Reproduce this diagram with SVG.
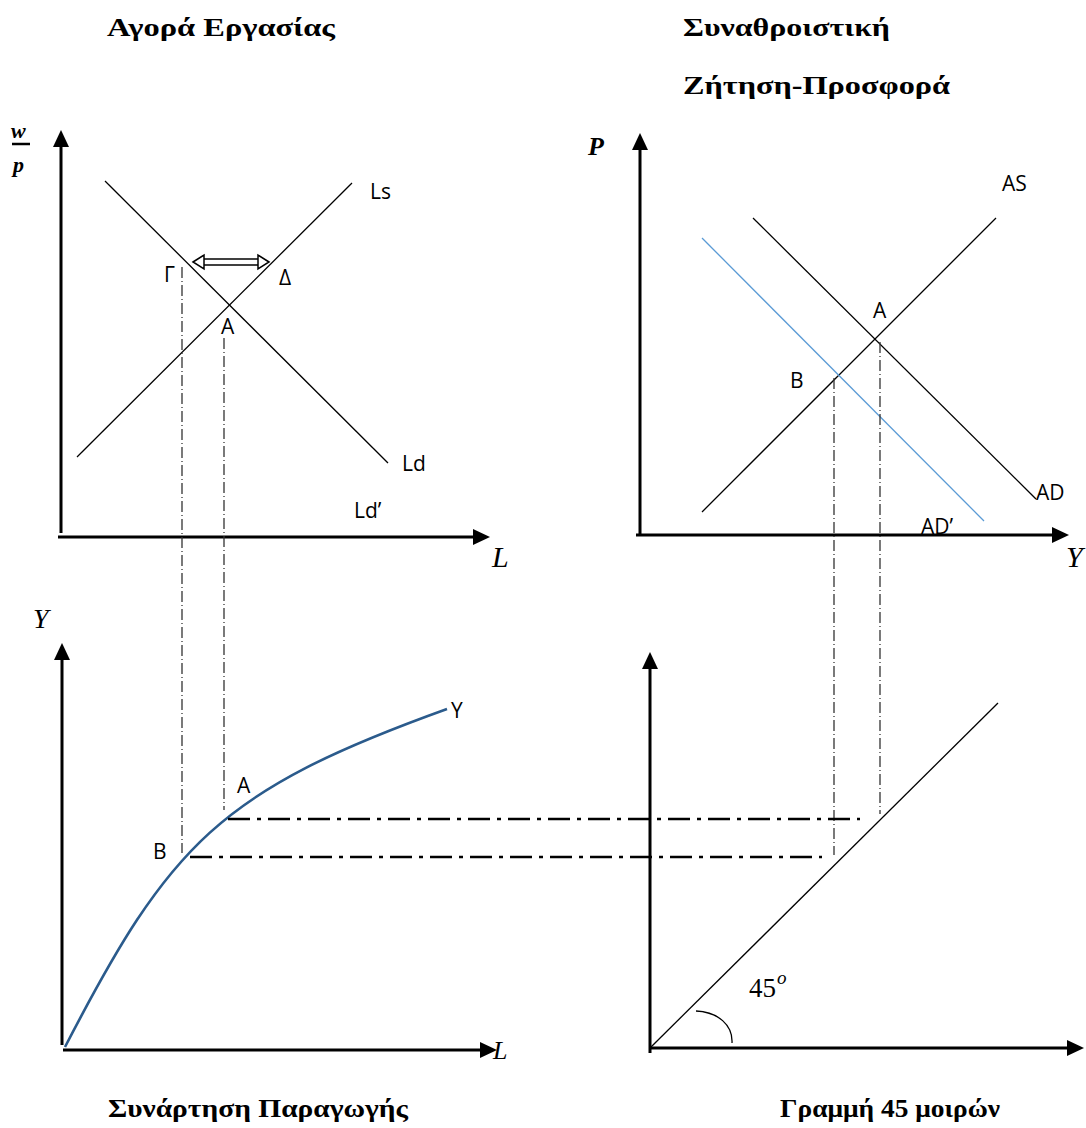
<svg xmlns="http://www.w3.org/2000/svg" width="1086" height="1128" viewBox="0 0 1086 1128">
<style>
.axis{stroke:#000;stroke-width:3;fill:none}
.head{fill:#000}
.curve{stroke:#000;stroke-width:1.3;fill:none}
.blue{stroke:#5b9bd5;stroke-width:1.3;fill:none}
.vdash{stroke:#333;stroke-width:1.3;fill:none;stroke-dasharray:11 3 1 3}
.hdash{stroke:#000;stroke-width:2.5;fill:none;stroke-dasharray:22 7 4 7}
.lbl{font-family:"Open Sans","Noto Sans",sans-serif;font-size:21px;fill:#000}
.title{font-family:"Liberation Serif",serif;font-weight:bold;font-size:26px;fill:#000}
.math{font-family:"Liberation Serif",serif;fill:#000}
.it{font-style:italic}
</style>
<rect width="1086" height="1128" fill="#fff"/>

<g id="titles">
<text class="title" x="107" y="36" textLength="228" lengthAdjust="spacingAndGlyphs">Αγορά Εργασίας</text>
<text class="title" x="683" y="36" textLength="207" lengthAdjust="spacingAndGlyphs">Συναθροιστική</text>
<text class="title" x="683" y="94" textLength="267" lengthAdjust="spacingAndGlyphs">Ζήτηση-Προσφορά</text>
<text class="title" x="108" y="1117" textLength="300" lengthAdjust="spacingAndGlyphs">Συνάρτηση Παραγωγής</text>
<text class="title" x="780" y="1117" textLength="220" lengthAdjust="spacingAndGlyphs">Γραμμή 45 μοιρών</text>
</g>

<g id="labour-market">
<line class="axis" x1="61" y1="533" x2="61" y2="145"/>
<polygon class="head" points="61,130 53,147 69,147"/>
<line class="axis" x1="58" y1="537" x2="475" y2="537"/>
<polygon class="head" points="490,537 473,529 473,545"/>
<text class="math it" x="11" y="138" font-size="22" font-weight="bold">w</text>
<line x1="12" y1="144" x2="30" y2="144" stroke="#000" stroke-width="2.5"/>
<text class="math it" x="13" y="172" font-size="22" font-weight="bold">p</text>
<text class="math it" x="492" y="567" font-size="30">L</text>
<line class="curve" x1="105" y1="181" x2="388" y2="463"/>
<line class="curve" x1="77" y1="457" x2="352" y2="183"/>
<text class="lbl" x="370" y="199">Ls</text>
<text class="lbl" x="402" y="471">Ld</text>
<text class="lbl" x="354" y="518">Ld’</text>
<text class="lbl" x="164" y="282">Γ</text>
<text class="lbl" x="279" y="285">Δ</text>
<text class="lbl" x="221" y="334">A</text>
<g id="gap-arrow" fill="none" stroke="#000" stroke-width="1.5">
<line x1="201" y1="259" x2="261" y2="259"/>
<line x1="201" y1="265" x2="261" y2="265"/>
<polygon points="193,262 204,255 204,269" fill="#fff"/>
<polygon points="269,262 258,255 258,269" fill="#fff"/>
</g>
</g>

<g id="ad-as">
<line class="axis" x1="640" y1="535" x2="640" y2="148"/>
<polygon class="head" points="640,133 632,150 648,150"/>
<line class="axis" x1="636" y1="535" x2="1054" y2="535"/>
<polygon class="head" points="1069,535 1052,527 1052,543"/>
<text class="math it" x="588" y="155" font-size="26" font-weight="bold">P</text>
<text class="math it" x="1066" y="567" font-size="30">Y</text>
<line class="curve" x1="702" y1="512" x2="996" y2="218"/>
<line class="curve" x1="753" y1="218" x2="1036" y2="499"/>
<line class="blue" x1="702" y1="238" x2="984" y2="521"/>
<text class="lbl" x="1002" y="191">AS</text>
<text class="lbl" x="873" y="318">A</text>
<text class="lbl" x="790" y="388">B</text>
<text class="lbl" x="1036" y="500">AD</text>
<text class="lbl" x="921" y="534">AD’</text>
</g>

<g id="production-function">
<line class="axis" x1="62" y1="1045" x2="62" y2="658"/>
<polygon class="head" points="62,643 54,660 70,660"/>
<line class="axis" x1="63" y1="1050" x2="482" y2="1050"/>
<polygon class="head" points="497,1050 480,1042 480,1058"/>
<text class="math it" x="33" y="628" font-size="28">Y</text>
<text class="math it" x="493" y="1059" font-size="26">L</text>
<path d="M65,1047 C170,844 219,791 447,709" fill="none" stroke="#2b5b8c" stroke-width="2.6"/>
<text class="lbl" x="451" y="718">Y</text>
<text class="lbl" x="237" y="793">A</text>
<text class="lbl" x="153" y="859">B</text>
</g>

<g id="line-45">
<line class="axis" x1="650" y1="1053" x2="650" y2="667"/>
<polygon class="head" points="650,652 642,669 658,669"/>
<line class="axis" x1="650" y1="1048" x2="1068" y2="1048"/>
<polygon class="head" points="1084,1048 1067,1040 1067,1056"/>
<line class="curve" x1="650" y1="1048" x2="998" y2="703"/>
<path d="M696,1011 C718,1012 733,1025 732,1043" fill="none" stroke="#000" stroke-width="1.3"/>
<text class="math" x="749" y="997" font-size="27">45</text>
<text class="math it" x="777" y="984" font-size="19">o</text>
</g>

<g id="connectors">
<line class="vdash" x1="182" y1="267" x2="182" y2="853"/>
<line class="vdash" x1="224" y1="338" x2="224" y2="810"/>
<line class="vdash" x1="834" y1="378" x2="834" y2="855"/>
<line class="vdash" x1="880" y1="342" x2="880" y2="814"/>
<line class="hdash" x1="228" y1="819" x2="860" y2="819"/>
<line class="hdash" x1="190" y1="857" x2="822" y2="857"/>
</g>
</svg>
